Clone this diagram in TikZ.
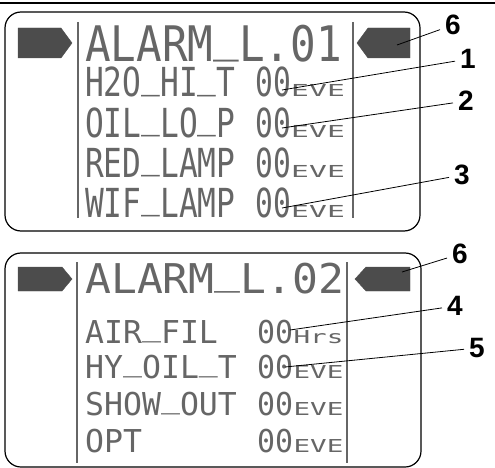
\documentclass[tikz,border=0pt]{standalone}
\usepackage{fontspec}
\usepackage{xcolor}
\usepackage{tikz}

\newfontfamily\lcdtitleA[FakeStretch=0.87]{DejaVu Sans Mono}
\newfontfamily\lcdrowA[FakeStretch=0.78]{DejaVu Sans Mono}
\newfontfamily\lcdvalA[FakeStretch=0.74]{DejaVu Sans Mono}
\newfontfamily\lcdunitA[FakeStretch=1.8]{DejaVu Sans Mono}
\newfontfamily\lcdtitleB[FakeStretch=1.05]{DejaVu Sans Mono}
\newfontfamily\lcdrowB[FakeStretch=1.0]{DejaVu Sans Mono}
\newfontfamily\lcdvalB[FakeStretch=0.95]{DejaVu Sans Mono}
\newfontfamily\lcdunitB[FakeStretch=1.55]{DejaVu Sans Mono}
\newfontfamily\calloutfont{Liberation Sans}

% underscore sitting on the baseline, as on the display
\newcommand{\lcdbar}{\raisebox{0.24em}{\_}}

\definecolor{lcdgray}{gray}{0.4}
\definecolor{pointgray}{gray}{0.3}

\begin{document}
\begin{tikzpicture}[
    x=1pt, y=-1pt,
    panel/.style={
        draw,
        line width=1.2pt,
        rounded corners=16pt
    },
    pointer/.style={
        draw=pointgray,
        fill=pointgray
    },
    divider/.style={
        draw=lcdgray,
        line width=1.6pt
    },
    lcd/.style={
        anchor=base west,
        inner sep=0pt,
        text=lcdgray
    },
    titleA/.style={lcd, font=\lcdtitleA\fontsize{49}{49}\selectfont},
    rowA/.style={lcd, font=\lcdrowA\fontsize{40}{40}\selectfont},
    valA/.style={lcd, font=\lcdvalA\fontsize{40}{40}\selectfont},
    unitA/.style={lcd, font=\lcdunitA\fontsize{16.5}{16.5}\selectfont},
    titleB/.style={lcd, font=\lcdtitleB\fontsize{41}{41}\selectfont},
    rowB/.style={lcd, font=\lcdrowB\fontsize{31.5}{31.5}\selectfont},
    valB/.style={lcd, font=\lcdvalB\fontsize{31.5}{31.5}\selectfont},
    unitB/.style={lcd, font=\lcdunitB\fontsize{17.8}{17.8}\selectfont},
    callout/.style={
        inner sep=5pt,
        font=\calloutfont\bfseries\fontsize{28}{28}\selectfont
    },
    leader/.style={
        line width=0.8pt
    }
]

\useasboundingbox (0,0) rectangle (495,468);

\draw[line width=1.5pt] (0,3) -- (495,3);

% first display
\draw[panel] (5,12) rectangle (420,231);

\fill[pointer] (18,28) -- (61,28) -- (72,43) -- (61,58) -- (18,58) -- cycle;
\fill[pointer] (410,28) -- (368,28) -- (357,43) -- (368,58) -- (410,58) -- cycle;

\draw[divider] (78,22) -- (78,218);
\draw[divider] (353,22) -- (353,218);

\node[titleA] (title1) at (85,62) {ALARM\lcdbar L.01};

\node[rowA] (r11) at (85,97) {H2O\lcdbar HI\lcdbar T};
\node[valA] (v11) at (255,97) {00};
\node[unitA, anchor=base west] (u11) at (v11.base east) {EVE};

\node[rowA] (r12) at (85,137) {OIL\lcdbar LO\lcdbar P};
\node[valA] (v12) at (255,137) {00};
\node[unitA, anchor=base west] (u12) at (v12.base east) {EVE};

\node[rowA] (r13) at (85,177) {RED\lcdbar LAMP};
\node[valA] (v13) at (255,177) {00};
\node[unitA, anchor=base west] (u13) at (v13.base east) {EVE};

\node[rowA] (r14) at (85,217) {WIF\lcdbar LAMP};
\node[valA] (v14) at (255,217) {00};
\node[unitA, anchor=base west] (u14) at (v14.base east) {EVE};

% second display
\draw[panel] (5,253) rectangle (421,467);

\fill[pointer] (18,267) -- (62,267) -- (72,279) -- (62,291) -- (18,291) -- cycle;
\fill[pointer] (410,267) -- (366,267) -- (355,279) -- (366,291) -- (410,291) -- cycle;

\draw[divider] (77,262) -- (77,463);
\draw[divider] (347,262) -- (347,463);

\node[titleB] (title2) at (85,293) {ALARM\lcdbar L.02};

\node[rowB] (r21) at (85,343) {AIR\lcdbar FIL};
\node[valB] (v21) at (257,343) {00};
\node[unitB, anchor=base west] (u21) at (v21.base east) {Hrs};

\node[rowB] (r22) at (85,378) {HY\lcdbar OIL\lcdbar T};
\node[valB] (v22) at (257,378) {00};
\node[unitB, anchor=base west] (u22) at (v22.base east) {EVE};

\node[rowB] (r23) at (85,415) {SHOW\lcdbar OUT};
\node[valB] (v23) at (257,415) {00};
\node[unitB, anchor=base west] (u23) at (v23.base east) {EVE};

\node[rowB] (r24) at (85,452) {OPT};
\node[valB] (v24) at (257,452) {00};
\node[unitB, anchor=base west] (u24) at (v24.base east) {EVE};

% callouts
\node[callout] (c6a) at (453,25) {6};
\node[callout] (c1) at (468,59) {1};
\node[callout] (c2) at (466,101) {2};
\node[callout] (c3) at (462,175) {3};
\node[callout] (c6b) at (460,254) {6};
\node[callout] (c4) at (455,306) {4};
\node[callout] (c5) at (477,348) {5};

\coordinate (t6a) at (397,45);
\coordinate (t1) at (282,90);
\coordinate (t2) at (282,128);
\coordinate (t3) at (282,208);
\coordinate (t6b) at (402,272);
\coordinate (t4) at (290,330);
\coordinate (t5) at (285,367);

\draw[leader] (c6a) -- (t6a);
\draw[leader] (c1) -- (t1);
\draw[leader] (c2) -- (t2);
\draw[leader] (c3) -- (t3);
\draw[leader] (c6b) -- (t6b);
\draw[leader] (c4) -- (t4);
\draw[leader] (c5) -- (t5);

\end{tikzpicture}
\end{document}
